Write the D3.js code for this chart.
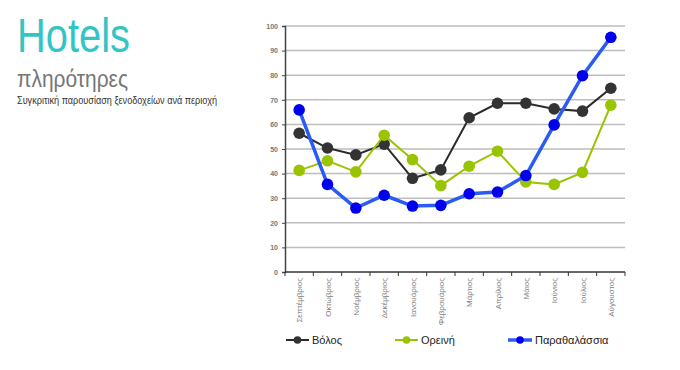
<!DOCTYPE html>
<html><head><meta charset="utf-8">
<script src="https://cdn.jsdelivr.net/npm/d3@7"></script>
<style>body{margin:0;background:#fff}svg{display:block}</style>
</head><body>
<svg id="c" width="680" height="370"></svg>
<script>
const months = ["Σεπτέμβριος","Οκτώβριος","Νοέμβριος","Δεκέμβριος","Ιανουάριος","Φεβρουάριος","Μάρτιος","Απρίλιος","Μάιος","Ιούνιος","Ιούλιος","Αύγουστος"];
const volos = [56.4,50.4,47.6,52,38.1,41.5,62.7,68.6,68.6,66.3,65.4,74.7];
const oreini = [41.3,45.2,40.7,55.6,45.7,35.1,43,49.1,36.6,35.6,40.5,67.8];
const parathalassia = [65.9,35.6,26,31.2,26.8,27.1,31.8,32.5,39.2,59.8,79.8,95.4];
const yTicks = [0,10,20,30,40,50,60,70,80,90,100];
const seriesNames = ["Βόλος","Ορεινή","Παραθαλάσσια"];

const svg = d3.select("#c");
const x = d3.scaleBand().domain(months).range([285,625]);
const y = d3.scaleLinear().domain([0,100]).range([272,26]);

// titles
svg.append("text").attr("x",17).attr("y",52).attr("font-family","Liberation Sans, Arial, sans-serif")
  .attr("font-size",48).attr("fill","#33c5c6").attr("textLength",113).attr("lengthAdjust","spacingAndGlyphs").text("Hotels");
svg.append("text").attr("x",17).attr("y",87).attr("font-family","Liberation Sans, Arial, sans-serif")
  .attr("font-size",23).attr("fill","#767676").attr("textLength",111).attr("lengthAdjust","spacingAndGlyphs").text("πληρότηρες");
svg.append("text").attr("x",17).attr("y",104).attr("font-family","Liberation Sans, Arial, sans-serif")
  .attr("font-size",10).attr("fill","#333").attr("textLength",200).attr("lengthAdjust","spacingAndGlyphs").text("Συγκριτική παρουσίαση ξενοδοχείων ανά περιοχή");

// grid
svg.append("g").selectAll("line").data(yTicks.filter(d=>d>0)).join("line")
  .attr("x1",285).attr("x2",625).attr("y1",d=>y(d)).attr("y2",d=>y(d))
  .attr("stroke","#bdbdbd").attr("stroke-width",1.5);

// y axis
const ya = svg.append("g").attr("transform","translate(285,0)")
  .call(d3.axisLeft(y).tickValues(yTicks).tickSize(3).tickPadding(4));
ya.select(".domain").attr("stroke","#444").attr("stroke-width",1.5);
ya.selectAll(".tick line").attr("stroke","#444");
ya.selectAll("text").attr("font-family","Liberation Sans, Arial, sans-serif").attr("font-size",7).attr("font-weight","bold").attr("fill","#777");

// x axis
const xa = svg.append("g").attr("transform","translate(0,272)");
xa.append("line").attr("x1",285).attr("x2",625).attr("stroke","#333").attr("stroke-width",1.5);
const bounds = d3.range(months.length+1).map(i=> i<months.length ? x(months[i]) : x.range()[1]);
xa.selectAll("line.t").data(bounds).join("line").attr("class","t")
  .attr("x1",d=>d).attr("x2",d=>d).attr("y1",0).attr("y2",4).attr("stroke","#333").attr("stroke-width",1);
xa.selectAll("text").data(months).join("text")
  .attr("transform",d=>`translate(${x(d)+x.bandwidth()/2+3},6) rotate(-90)`)
  .attr("text-anchor","end").attr("font-family","Liberation Sans, Arial, sans-serif").attr("font-size",8).attr("fill","#808080").text(d=>d);

const series = [
  {name:seriesNames[0], values:volos, line:"#2b2b2b", dot:"#333333", w:2, r:5.8},
  {name:seriesNames[1], values:oreini, line:"#99c400", dot:"#99c400", w:2, r:5.8},
  {name:seriesNames[2], values:parathalassia, line:"#2a5cf5", dot:"#0000ee", w:3.5, r:5.8}
];
const cx = d=>x(d)+x.bandwidth()/2;
series.forEach(s=>{
  const g = svg.append("g");
  g.append("path").datum(s.values).attr("fill","none").attr("stroke",s.line).attr("stroke-width",s.w)
    .attr("d",d3.line().x((v,i)=>cx(months[i])).y(v=>y(v)));
  g.selectAll("circle").data(s.values).join("circle").attr("cx",(v,i)=>cx(months[i])).attr("cy",v=>y(v))
    .attr("r",s.r).attr("fill",s.dot);
});

// legend
const legX = [286,395,508];
const legW = [23,23,24];
series.forEach((s,i)=>{
  const g = svg.append("g").attr("transform",`translate(${legX[i]},340)`);
  g.append("line").attr("x1",0).attr("x2",legW[i]).attr("stroke",s.line).attr("stroke-width",s.w);
  g.append("circle").attr("cx",legW[i]/2).attr("r",3.8).attr("fill",s.dot);
  g.append("text").attr("x",legW[i]+3).attr("dy","0.35em").attr("font-family","Liberation Sans, Arial, sans-serif")
    .attr("font-size",11).attr("fill","#222").text(s.name);
});
</script>
</body></html>
